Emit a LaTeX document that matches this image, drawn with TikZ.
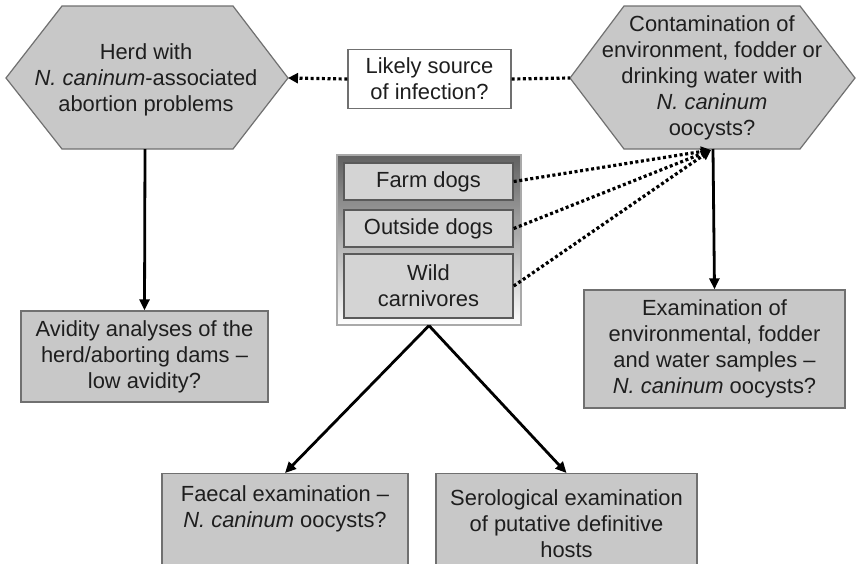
\documentclass[tikz,border=0pt]{standalone}
\usepackage{fontspec}
\setmainfont{Liberation Sans}
\usetikzlibrary{arrows.meta}
\definecolor{boxfill}{HTML}{C8C8C8}
\definecolor{innerfill}{HTML}{D4D4D4}
\definecolor{boxline}{HTML}{707070}
\definecolor{txt}{HTML}{1E1E1E}
\tikzset{
  lbl/.style={font=\fontsize{21.9}{26}\selectfont, text=txt, align=center, inner sep=0pt},
  gbox/.style={lbl, draw=boxline, line width=1.4pt, fill=boxfill},
  ibox/.style={lbl, draw=boxline!80!black, line width=1.4pt, fill=innerfill},
  hexa/.style={draw=boxline, line width=1.2pt, fill=boxfill},
  dots/.style={line width=3.2pt, dash pattern=on 3pt off 2.6pt, black},
  dotarrow/.style={dots, -{Triangle[length=10pt,width=10pt]}},
  solidarrow/.style={line width=2.8pt, black, -{Triangle[length=11pt,width=10pt]}},
}
\begin{document}
\begin{tikzpicture}[x=1pt, y=-1pt]
\useasboundingbox (0,0) rectangle (857,563);
\clip (0,0) rectangle (857,563);
\fill[white] (0,0) rectangle (857,563);

% left hexagon
\draw[hexa] (62,6) -- (233,6) -- (288,78) -- (233,149) -- (62,149) -- (6,78) -- cycle;
\coordinate (lhexE) at (288,78);
\coordinate (lhexS) at (145,149);
\node[lbl] (herd) at (146,80) {Herd with\\\textit{N. caninum}-associated\\abortion problems};

% right hexagon
\draw[hexa] (624,6) -- (800,6) -- (855,78) -- (800,149) -- (624,149) -- (570,78) -- cycle;
\coordinate (rhexW) at (570,78);
\coordinate (rhexS) at (713,149);
\coordinate (conv) at (711,150);
\node[lbl] (contam) at (712,78) {Contamination of\\environment, fodder or\\drinking water with\\\textit{N. caninum}\\oocysts?};

% likely source
\node[gbox, fill=white, minimum width=163pt, minimum height=59pt] (likely) at (429.5,79) {Likely source\\of infection?};

% group of carnivores
\node[draw=boxline!60, line width=1.2pt, top color=black!62, bottom color=white, minimum width=184pt, minimum height=170pt, inner sep=0pt] (group) at (429,240) {};
\node[ibox, minimum width=169pt, minimum height=37pt] (farm) at (428.5,181.5) {Farm dogs};
\node[ibox, minimum width=169pt, minimum height=37pt] (outside) at (428.5,228.5) {Outside dogs};
\node[ibox, minimum width=169pt, minimum height=64pt] (wild) at (428.5,286) {Wild\\carnivores};

% result boxes
\node[gbox, minimum width=247pt, minimum height=91pt] (avidity) at (144.5,356.5) {Avidity analyses of the\\herd/aborting dams --\\low avidity?};
\node[gbox, minimum width=261pt, minimum height=118pt] (exam) at (714.5,349) {Examination of\\environmental, fodder\\and water samples --\\\textit{N. caninum} oocysts?};
\node[gbox, minimum width=246pt, minimum height=100pt, anchor=north] (faecal) at (285,473) {Faecal examination --\\\textit{N. caninum} oocysts?\\\strut};
\node[gbox, minimum width=261pt, minimum height=100pt, anchor=north] (sero) at (566.5,473) {Serological examination\\of putative definitive\\hosts};

% connectors
\draw[dotarrow] (likely.west) -- (lhexE);
\draw[dots] (likely.east) -- (rhexW);
\draw[dotarrow] (farm.east) -- (conv);
\draw[dotarrow] (outside.east) -- (conv);
\draw[dotarrow] (wild.east) -- (conv);
\draw[solidarrow] (lhexS) -- (avidity.north);
\draw[solidarrow] (rhexS) -- (exam.north);
\draw[solidarrow] (group.south) -- (faecal.north);
\draw[solidarrow] (group.south) -- (sero.north);
\end{tikzpicture}
\end{document}
